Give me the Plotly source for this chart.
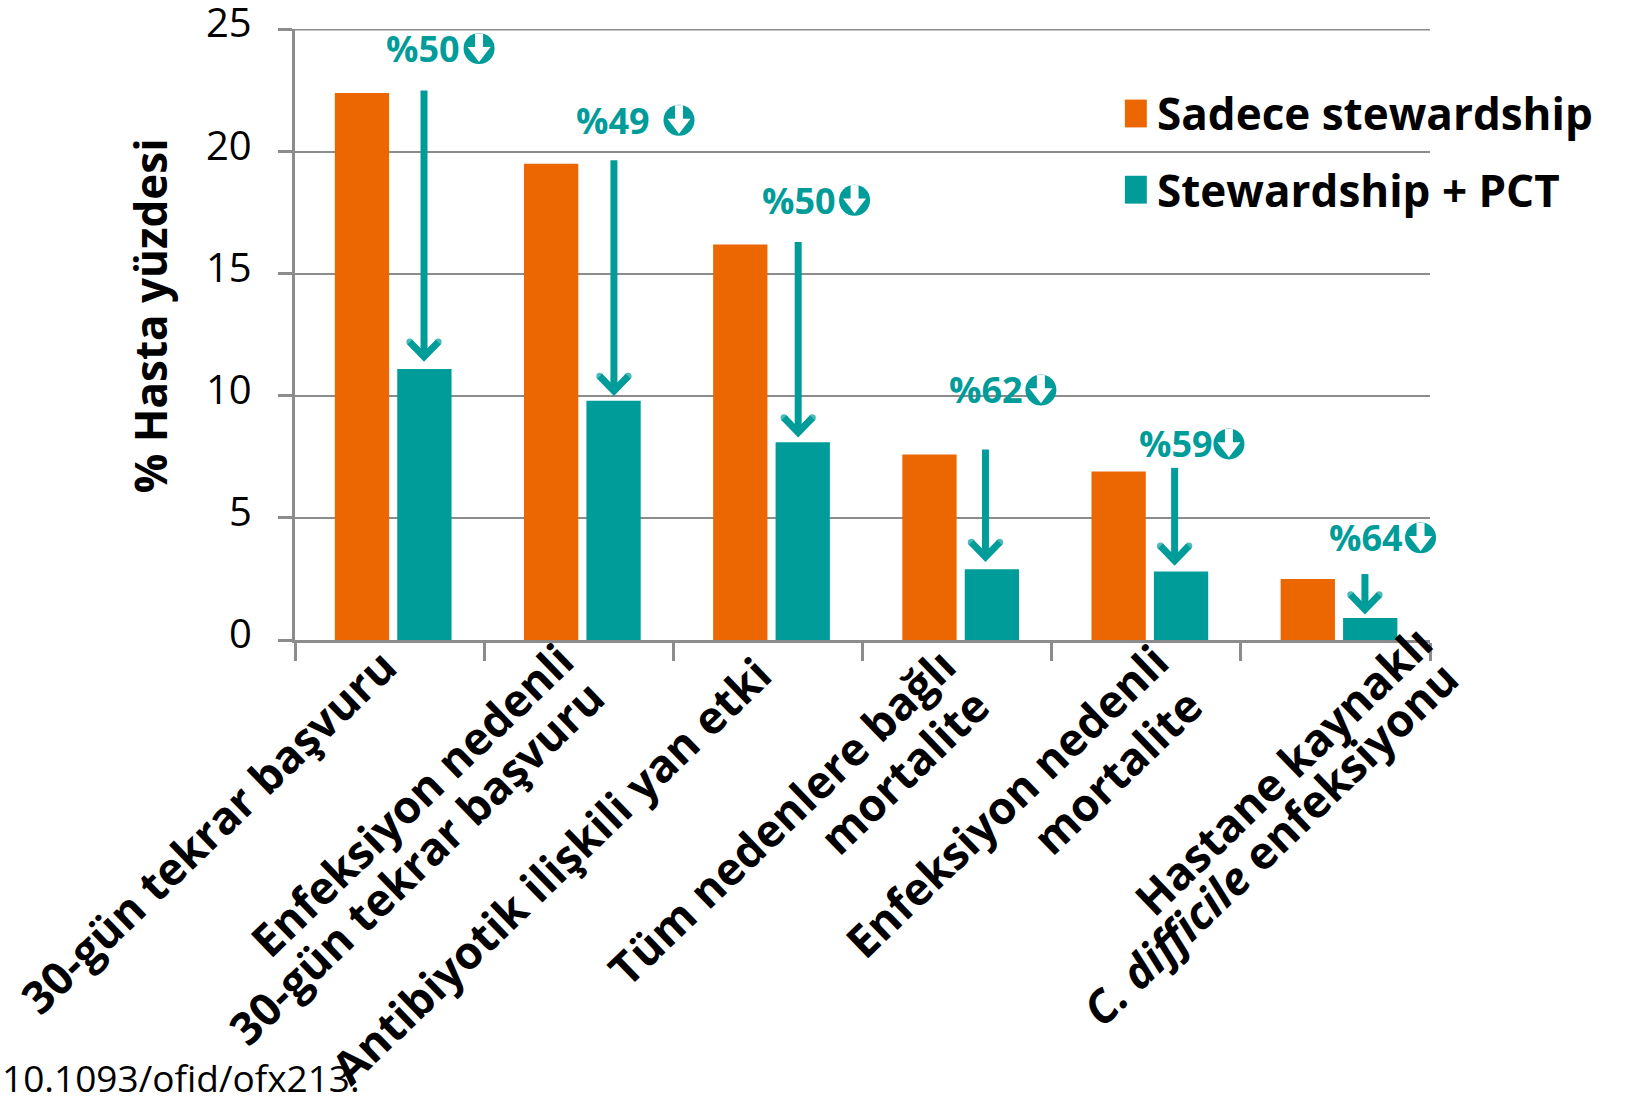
import plotly.graph_objects as go

ORANGE = "#EC6602"
TEAL = "#009C9A"
GREY = "#8C8C8C"
FONT = "Open Sans"

stewardship_only = [22.4, 19.5, 16.2, 7.6, 6.9, 2.5]
stewardship_pct = [11.1, 9.8, 8.1, 2.9, 2.8, 0.9]
reduction_labels = ["%50", "%49", "%50", "%62", "%59", "%64"]
y_ticks = [0, 5, 10, 15, 20, 25]

# Category label lines, each set apart so the line spacing can stay tight
category_lines = [
    "30-gün tekrar başvuru",
    "Enfeksiyon nedenli",
    "30-gün tekrar başvuru",
    "Antibiyotik ilişkili yan etki",
    "Tüm nedenlere bağlı",
    "mortalite",
    "Enfeksiyon nedenli",
    "mortalite",
    "Hastane kaynaklı",
    "<i>C. difficile</i> enfeksiyonu",
]
# Centre of each rotated line, in pixels from the left edge and from the top
line_center_px = [207, 411, 415, 550, 781, 903, 1006, 1116, 1282, 1269]
line_center_py = [831, 799, 862, 870, 816, 771, 800, 771, 770, 843]

# Arrow placement in axis units: horizontal position, top of shaft, tip
arrow_x = [0.682, 1.686, 2.66, 3.65, 4.65, 5.656]
arrow_top = [22.5, 19.65, 16.3, 7.8, 7.05, 2.7]
arrow_tip = [11.6, 10.2, 8.5, 3.4, 3.25, 1.25]

# Reduction label centres and the round badge beside each one
label_x = [0.675, 1.68, 2.665, 3.655, 4.657, 5.66]
label_y = [24.22, 21.28, 18.01, 10.24, 8.03, 4.19]
badge_x = [0.973, 2.03, 2.958, 3.943, 4.937, 5.95]

# Each group of two bars sits right of its category midpoint
bar_width = 0.287
bar_x_orange = [i + 0.354 for i in range(6)]
bar_x_teal = [i + 0.684 for i in range(6)]

# Plot area edges in pixels
LEFT, TOP, BOTTOM, RIGHT = 295, 29, 640, 1430
PLOT_W = RIGHT - LEFT

fig = go.Figure()
fig.add_bar(x=bar_x_orange, y=stewardship_only, width=bar_width,
            marker=dict(color=ORANGE, line_width=0), name="Sadece stewardship", showlegend=False)
fig.add_bar(x=bar_x_teal, y=stewardship_pct, width=bar_width,
            marker=dict(color=TEAL, line_width=0), name="Stewardship + PCT", showlegend=False)

# Down arrows: a shaft with a rounded chevron head
wing_x, wing_y = 0.075, 0.6
for x, top, tip in zip(arrow_x, arrow_top, arrow_tip):
    fig.add_scatter(x=[x, x], y=[top, tip], mode="lines",
                    line=dict(color=TEAL, width=7), hoverinfo="skip", showlegend=False)
    fig.add_scatter(x=[x - wing_x, x, x + wing_x], y=[tip + wing_y, tip, tip + wing_y],
                    mode="lines+markers", line=dict(color=TEAL, width=7),
                    marker=dict(color=TEAL, size=[7, 0, 7], line_width=0),
                    hoverinfo="skip", showlegend=False)

# Round badges holding a white down arrow; the last one overhangs the plot area
fig.add_scatter(x=badge_x, y=label_y, mode="markers", cliponaxis=False,
                marker=dict(symbol="circle", size=31, color=TEAL, line_width=0),
                hoverinfo="skip", showlegend=False)
for bx, by in zip(badge_x, label_y):
    fig.add_scatter(x=[bx, bx], y=[by + 0.62, by - 0.1], mode="lines", cliponaxis=False,
                    line=dict(color="white", width=8), hoverinfo="skip", showlegend=False)
fig.add_scatter(x=badge_x, y=[y - 0.14 for y in label_y], mode="markers", cliponaxis=False,
                marker=dict(symbol="triangle-down", size=20, color="white", line_width=0),
                hoverinfo="skip", showlegend=False)

annotations = []
for x, y, text in zip(label_x, label_y, reduction_labels):
    annotations.append(dict(x=x, y=y, text=f"<b>{text}</b>", showarrow=False,
                            font=dict(family=FONT, size=36, color=TEAL)))

for v in y_ticks:
    annotations.append(dict(xref="paper", x=-0.036, y=v, yshift=8, text=str(v), showarrow=False,
                            xanchor="right", height=40, valign="middle",
                            font=dict(family=FONT, size=40, color="black")))

# Rotated category labels
for px, py, text in zip(line_center_px, line_center_py, category_lines):
    annotations.append(dict(xref="paper", x=(px - LEFT) / PLOT_W, y=0, yshift=BOTTOM - py,
                            text=f"<b>{text}</b>", showarrow=False, textangle=-44,
                            xanchor="center", yanchor="middle",
                            font=dict(family=FONT, size=45, color="black")))

annotations.append(dict(xref="paper", yref="paper", x=-0.128, y=0.531, text="<b>% Hasta yüzdesi</b>",
                        textangle=-90, showarrow=False, xanchor="center", yanchor="middle",
                        font=dict(family=FONT, size=44, color="black")))

annotations.append(dict(xref="paper", yref="paper", x=-0.26, y=(BOTTOM - 1077) / (BOTTOM - TOP),
                        text="10.1093/ofid/ofx213.", showarrow=False, xanchor="left",
                        yanchor="middle", height=40, valign="middle",
                        font=dict(family=FONT, size=37, color="black")))

# Key at the upper right
key_names = ["Sadece stewardship", "Stewardship + PCT"]
key_colors = [ORANGE, TEAL]
key_y = [21.56, 18.44]
shapes = [
    # Top gridline, which the axis leaves out at the edge of its range
    dict(type="line", xref="x", yref="y", x0=0, x1=6, y0=25, y1=25, layer="below",
         line=dict(color=GREY, width=2)),
]
for name, color, y in zip(key_names, key_colors, key_y):
    shapes.append(dict(type="rect", xref="x", yref="y", x0=4.387, x1=4.503,
                       y0=y - 0.57, y1=y + 0.57, fillcolor=color, line_width=0))
    annotations.append(dict(x=4.545, y=y, text=f"<b>{name}</b>", showarrow=False, xanchor="left",
                            font=dict(family=FONT, size=44, color="black")))

fig.update_layout(
    width=1632, height=1096,
    margin=dict(l=LEFT, r=1632 - RIGHT, t=TOP, b=1096 - BOTTOM),
    plot_bgcolor="white", paper_bgcolor="white",
    showlegend=False,
    annotations=annotations, shapes=shapes,
    xaxis=dict(range=[0, 6], tickvals=list(range(7)), ticktext=[""] * 7,
               ticks="outside", ticklen=18, tickwidth=3, tickcolor=GREY,
               showgrid=False, zeroline=False, showline=True, linecolor=GREY, linewidth=3),
    yaxis=dict(range=[0, 25.02], tickvals=y_ticks, ticktext=[""] * 6,
               ticks="outside", ticklen=14, tickwidth=3, tickcolor=GREY,
               showgrid=True, gridcolor=GREY, gridwidth=2, zeroline=False,
               showline=True, linecolor=GREY, linewidth=3),
)

fig.write_html("out.html")
